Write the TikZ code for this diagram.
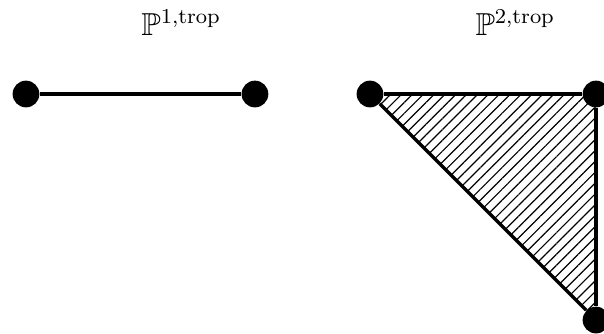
\documentclass[tikz,border=0pt]{standalone}
\usepackage{amssymb}
\usetikzlibrary{patterns.meta}
\begin{document}
\begin{tikzpicture}[
    vert/.style={circle, fill=black, inner sep=0pt, minimum size=0.355cm},
    edge/.style={line width=1.3pt},
    hatch/.style={pattern={Lines[angle=45, distance=2.9pt, line width=0.45pt]}},
    lab/.style={anchor=base west, inner sep=0pt, font=\large}
]
  \useasboundingbox (-4.911,-3.172) rectangle (3.106,1.248);
  % one dimensional
  \node[vert] (p0) at (-4.566,0) {};
  \node[vert] (p1) at (-1.527,0) {};
  \draw[edge] (p0) -- (p1);
  \node[lab] (l1) at (-3.04,0.783) {$\mathbb{P}^{1,\mathrm{trop}}$};

  % two dimensional
  \node[vert] (q0) at (0,0) {};
  \node[vert] (q1) at (3,0) {};
  \node[vert] (q2) at (3,-3) {};
  \fill[hatch] (q0.center) -- (q1.center) -- (q2.center) -- cycle;
  \draw[edge] (q0) -- (q1);
  \draw[edge] (q1) -- (q2);
  \draw[edge] (q2) -- (q0);
  \node[lab] (l2) at (1.394,0.783) {$\mathbb{P}^{2,\mathrm{trop}}$};
\end{tikzpicture}
\end{document}
